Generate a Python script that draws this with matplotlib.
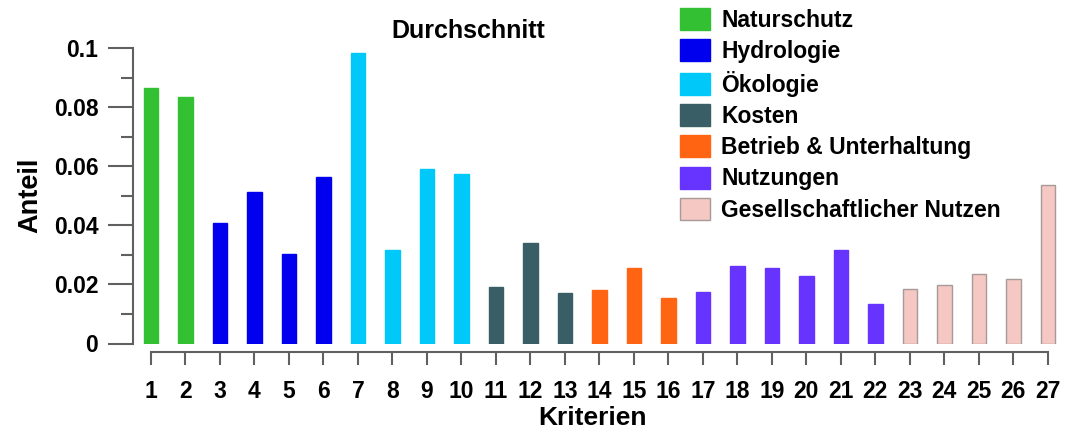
import matplotlib
matplotlib.use("Agg")
import matplotlib.pyplot as plt
from matplotlib.patches import Patch

plt.rcParams['font.family'] = ['Liberation Sans', 'DejaVu Sans']
plt.rcParams['font.weight'] = 'bold'

criteria = list(range(1, 28))
values = [0.0864, 0.0833, 0.0407, 0.0512, 0.0303, 0.0565, 0.0982, 0.0316, 0.0591, 0.0574,
          0.0191, 0.0339, 0.0170, 0.0182, 0.0255, 0.0153, 0.0175, 0.0261, 0.0254, 0.0228,
          0.0316, 0.0135, 0.0185, 0.0198, 0.0235, 0.0219, 0.0536]
groups = [0, 0, 1, 1, 1, 1, 2, 2, 2, 2, 3, 3, 3, 4, 4, 4, 5, 5, 5, 5, 5, 5, 6, 6, 6, 6, 6]
group_names = ["Naturschutz", "Hydrologie", "Ökologie", "Kosten",
               "Betrieb & Unterhaltung", "Nutzungen", "Gesellschaftlicher Nutzen"]
group_colors = ["#33c033", "#0000ee", "#00c8f8", "#3a5e66", "#ff6412", "#6633ff", "#f5c8c4"]
edge_colors = ["#33c033", "#0000ee", "#00c8f8", "#3a5e66", "#ff6412", "#6633ff", "#a89a98"]

fig = plt.figure(figsize=(10.73, 4.33), dpi=100)
ax = fig.add_axes([133/1073, 1-343.5/433, (1065-133)/1073, (343.5-48)/433])

ax.bar(criteria, values, width=0.42,
       color=[group_colors[g] for g in groups],
       edgecolor=[edge_colors[g] for g in groups], linewidth=1)

ax.set_xlim(1 - 18/34.5, 27.5)
ax.set_ylim(0, 0.1)

spine_col = '#606060'
for s in ['top', 'right']:
    ax.spines[s].set_visible(False)
ax.spines['left'].set_color(spine_col)
ax.spines['bottom'].set_color(spine_col)
ax.spines['left'].set_linewidth(1.5)
ax.spines['bottom'].set_linewidth(1.5)
ax.spines['left'].set_bounds(0, 0.1)
ax.spines['bottom'].set_bounds(1, 27)
ax.spines['bottom'].set_position(('outward', 6))

ax.set_yticks([0, 0.02, 0.04, 0.06, 0.08, 0.1])
ax.set_yticklabels(['0', '0.02', '0.04', '0.06', '0.08', '0.1'])
ax.set_yticks([0.01, 0.03, 0.05, 0.07, 0.09], minor=True)
ax.set_xticks(criteria)
ax.set_xticklabels([str(c) for c in criteria])

ax.tick_params(axis='y', which='major', direction='out', length=18, width=1.5,
               color=spine_col, labelsize=16.5, pad=7)
ax.tick_params(axis='y', which='minor', direction='out', length=9, width=1.5, color=spine_col)
ax.tick_params(axis='x', which='major', direction='out', length=9, width=1.5,
               color=spine_col, labelsize=16.5, pad=11)

for lab in ax.get_xticklabels() + ax.get_yticklabels():
    lab.set_fontweight('bold')

fig.text(30/1073, 1-195/433, 'Anteil', rotation=90, fontsize=19.5, fontweight='bold',
         ha='center', va='center')
fig.text(592/1073, 1-418/433, 'Kriterien', fontsize=19, fontweight='bold',
         ha='center', va='center')
fig.text(468/1073, 1-31/433, 'Durchschnitt', fontsize=18, fontweight='bold',
         ha='center', va='center')

handles = [Patch(facecolor=group_colors[i], edgecolor=edge_colors[i] if i == 6 else group_colors[i],
                 linewidth=1) for i in range(7)]
leg = fig.legend(handles, group_names, loc='upper left',
                 bbox_to_anchor=(680/1073, 1-8/433), frameon=False,
                 prop={'size': 16.5, 'weight': 'bold'},
                 handlelength=1.31, handleheight=1.09, handletextpad=0.5,
                 labelspacing=0.33, borderpad=0, borderaxespad=0)

fig.savefig('out.png', dpi=100)
